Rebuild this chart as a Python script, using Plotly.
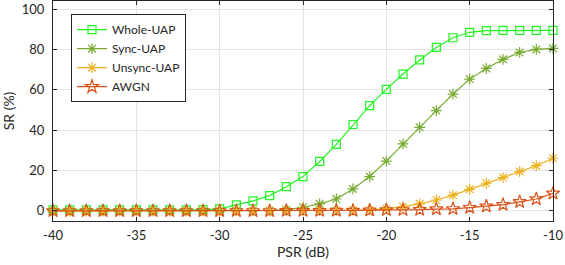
import plotly.graph_objects as go

psr = list(range(-40, -9))

whole_uap = [0.5, 0.5, 0.5, 0.5, 0.5, 0.5, 0.5, 0.5, 0.5, 0.6, 1.0, 3.0, 5.0, 7.6, 12.0, 17.0,
             24.5, 33.0, 42.8, 52.2, 60.2, 67.8, 74.8, 81.0, 85.8, 88.5, 89.3, 89.4, 89.4, 89.4, 89.4]
sync_uap = [0.0, 0.0, 0.0, 0.0, 0.0, 0.0, 0.0, 0.0, 0.0, 0.0, 0.0, 0.1, 0.1, 0.2, 0.6, 1.8,
            3.5, 5.9, 10.9, 17.0, 24.7, 33.2, 41.4, 49.7, 57.9, 65.3, 70.6, 75.1, 78.5, 80.0, 80.5]
unsync_uap = [0.0, 0.0, 0.0, 0.0, 0.0, 0.0, 0.0, 0.0, 0.0, 0.0, 0.0, 0.0, 0.0, 0.0, 0.0, 0.1,
              0.1, 0.2, 0.3, 0.5, 1.0, 2.1, 3.5, 5.4, 7.8, 10.7, 13.7, 16.5, 19.5, 22.4, 26.1]
awgn = [0.0, 0.0, 0.0, 0.0, 0.0, 0.0, 0.0, 0.0, 0.0, 0.0, 0.0, 0.0, 0.0, 0.0, 0.1, 0.1,
        0.1, 0.2, 0.2, 0.3, 0.5, 0.5, 0.6, 0.9, 1.0, 1.6, 2.3, 3.1, 4.5, 5.9, 8.7]

x_ticks = [-40, -35, -30, -25, -20, -15, -10]
x_tick_labels = ["-40", "-35", "-30", "-25", "-20", "-15", "-10"]
y_ticks = [0, 20, 40, 60, 80, 100]
y_tick_labels = ["0", "20", "40", "60", "80", "100"]

series = [
    ("Whole-UAP", whole_uap, "#22f522", "square-open", 8),
    ("Sync-UAP", sync_uap, "#77ac30", "asterisk-open", 9),
    ("Unsync-UAP", unsync_uap, "#edb120", "asterisk-open", 9),
    ("AWGN", awgn, "#d95319", "star-open", 10),
]

fig = go.Figure()
for name, ys, color, sym, size in series:
    fig.add_trace(go.Scatter(
        x=psr, y=ys, name=name, mode="lines+markers",
        line=dict(color=color, width=1.2),
        marker=dict(symbol=sym, size=size, color=color, line=dict(color=color, width=1.2)),
        cliponaxis=False,
    ))

axis_common = dict(
    showline=True, linecolor="#262626", linewidth=1, mirror="ticks",
    ticks="inside", ticklen=4, tickcolor="#262626",
    showgrid=True, gridcolor="#e3e3e3", gridwidth=1, zeroline=False,
    tickfont=dict(family="Lato, Open Sans, sans-serif", size=13, color="#262626"),
)

fig.update_layout(
    width=565, height=265,
    margin=dict(l=53, r=12, t=1, b=44),
    paper_bgcolor="white", plot_bgcolor="white",
    font=dict(family="Lato, Open Sans, sans-serif", size=13, color="#262626"),
    xaxis=dict(range=[-40, -10], tickvals=x_ticks, ticktext=x_tick_labels, ticklabelstandoff=2,
               title=dict(text="PSR (dB)", standoff=4, font=dict(size=14)), **axis_common),
    yaxis=dict(range=[-5, 104], tickvals=y_ticks, ticktext=y_tick_labels, ticklabelstandoff=5,
               title=dict(text="SR (%)", standoff=3, font=dict(size=14)), **axis_common),
    legend=dict(x=0.036, y=0.94, xanchor="left", yanchor="top",
                bgcolor="white", bordercolor="#262626", borderwidth=1,
                font=dict(size=12, color="#262626"), tracegroupgap=0),
    showlegend=True,
)

fig.write_html("out.html", config={"displayModeBar": False},
               post_script="document.body.style.margin='0';")
